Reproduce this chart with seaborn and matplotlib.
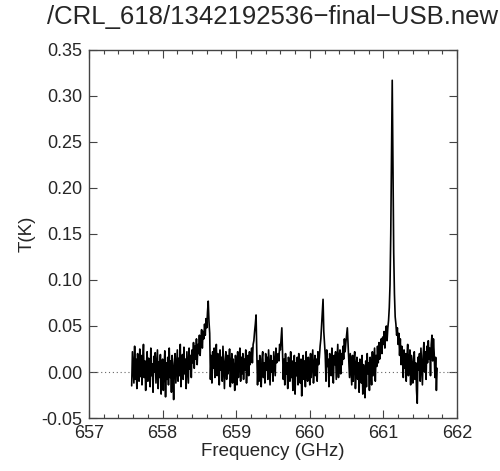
import numpy as np
import seaborn as sns
from matplotlib import pyplot as plt
from matplotlib.ticker import MultipleLocator

# spectrum, one channel every 0.01 GHz starting at 657.58 GHz (values in mK)
freq_start = 657.58
freq_step = 0.01
t_mk = [
    -15, 22,
    5, -12, 28, -8, 14, -18, 20, 2, -10, 25,
    -5, 18, -14, 10, 30, -6, 12, -20, 8, 22,
    -10, 15, 3, -16, 26, -4, 9, -22, 17, 0,
    21, -12, 6, 24, -18, 11, -6, 19, -24, 8,
    14, -20, 4, 23, -27, 10, -8, 16, -14, 26,
    -6, 12, -22, 18, 2, -30, 9, 20, -12, 5,
    24, -10, 15, -4, 30, -16, 8, 19, -8, 27,
    -2, 14, -18, 22, 6, -12, 26, 3, 18, -6,
    24, 10, 32, 4, 28, 14, 36, 8, 30, 20,
    40, 18, 34, 46, 26, 44, 36, 52, 40, 58,
    48, 65, 77, 55, 42, -8, 18, -12, 22, 4,
    26, -6, 14, 30, -4, 20, 8, -14, 24, 2,
    16, -10, 28, 6, -18, 12, 22, -8, 18, -2,
    10, 25, -16, 8, 20, -12, 14, 4, -20, 18,
    6, -14, 22, -6, 12, 26, -10, 16, -2, 20,
    -8, 14, 2, 24, -12, 10, 18, -4, 22, 8,
    16, 26, 10, 30, 34, 44, 52, 62, 20, -14,
    12, -10, 18, 4, -16, 14, 22, -6, 10, -12,
    20, 2, 16, -8, 24, 6, -14, 18, 0, 12,
    -10, 22, 8, -4, 26, 10, 14, 20, 12, 30,
    24, 36, 48, 18, -8, 14, -14, 20, -2, 10,
    -18, 16, 6, -10, 22, -6, 12, -20, 8, 18,
    -24, 10, -4, 16, -14, 20, 2, -12, 14, -26,
    8, 18, -8, 12, -16, 22, 0, -10, 16, 4,
    -14, 20, -6, 10, 24, -12, 6, 18, -4, 14,
    -10, 22, 8, 16, 28, 36, 50, 62, 79, 44,
    30, 18, -10, 24, 6, 14, -16, 20, 10, -4,
    26, 2, -12, 18, 8, 22, -8, 12, 30, -6,
    16, 24, -2, 20, 8, 28, 14, 36, 22, 32,
    40, 48, 30, 14, -6, 20, 4, -14, 18, -10,
    12, 22, -18, 6, 16, -8, 10, -22, 14, 2,
    -12, 18, -24, 8, -6, -28, 12, -16, 20, -2,
    10, -20, 16, 4, -14, 22, -4, 12, 26, -10,
    18, 6, 28, 10, 32, 14, 24, 36, 20, 38,
    30, 44, 26, 40, 50, 34, 48, 56, 70, 95,
    150, 240, 317, 230, 130, 85, 60, 52, 40, 48,
    30, 42, 18, 36, 8, 28, 14, -6, 24, 4,
    20, -10, 16, 30, -4, 12, 24, -14, 18, 6,
    -12, 14, 22, -8, 10, -20, -34, 16, 2, 20,
    -10, 26, 6, -14, 18, 32, 0, 22, -8, 28,
    10, 34, 14, 26, -4, 30, 40, 12, 36, 20,
    -6, 16, -20, 4,
]

title = "/CRL_618/1342192536\u2212final\u2212USB.new"
x_label = "Frequency (GHz)"
y_label = "T(K)"

freq = freq_start + freq_step * np.arange(len(t_mk))
temp = np.array(t_mk) / 1000.0

sns.set_style("ticks")
plt.rcParams["font.family"] = ["Liberation Sans", "DejaVu Sans"]

fig = plt.figure(figsize=(5, 4.71), dpi=100)
ax = fig.add_axes([0.178, 0.1125, 0.736, 0.7815])

ax.axhline(0, color="#666666", lw=0.8, ls=(0, (1, 2.5)), zorder=1)
sns.lineplot(x=freq, y=temp, ax=ax, color="black", lw=1.2,
             estimator=None, sort=False, zorder=2)

ax.set_xlim(657, 662)
ax.set_ylim(-0.05, 0.35)
ax.xaxis.set_major_locator(MultipleLocator(1))
ax.xaxis.set_minor_locator(MultipleLocator(0.2))
ax.yaxis.set_major_locator(MultipleLocator(0.05))
ax.xaxis.set_major_formatter(plt.FormatStrFormatter("%d"))
ax.yaxis.set_major_formatter(plt.FormatStrFormatter("%.2f"))

ax.tick_params(which="both", direction="in", top=True, right=True,
               color="#444444", labelsize=13, width=0.8)
ax.tick_params(which="major", length=6, pad=5)
ax.tick_params(which="minor", length=3)
for s in ax.spines.values():
    s.set_color("#444444")
    s.set_linewidth(1.0)

ax.set_title(title, fontsize=18.5, pad=19)
ax.set_xlabel(x_label, fontsize=13.5, labelpad=1)
ax.set_ylabel(y_label, fontsize=13.5, labelpad=4)

fig.savefig("out.png", dpi=100)
